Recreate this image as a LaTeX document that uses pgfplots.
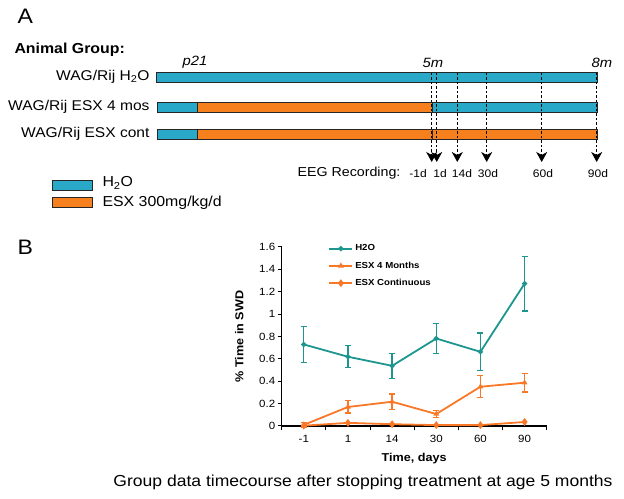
\documentclass[border=0pt]{standalone}
\usepackage{pgfplots}
\pgfplotsset{compat=1.18}
\usepackage{fontspec}
\setmainfont{Liberation Sans}[FakeStretch=1.1]
\usetikzlibrary{arrows.meta}
\definecolor{cblue}{RGB}{41,168,199}
\definecolor{corange}{RGB}{247,128,30}
\definecolor{cteal}{RGB}{28,150,142}
\definecolor{lorange}{RGB}{249,120,40}
\newcommand{\fs}[1]{\fontsize{#1}{#1}\selectfont}
\begin{document}
\begin{tikzpicture}
% ---------- canvas (pixel coordinates) ----------
\begin{axis}[name=canvas, at={(0,0)}, anchor=south west, scale only axis,
  width=624bp, height=499bp, xmin=0, xmax=624, ymin=0, ymax=499,
  y dir=reverse, hide axis, clip=false]
\path (axis cs:0,0) rectangle (axis cs:624,499);
% bars
\addplot[fill=cblue, draw=black!85, line width=0.8bp] coordinates {(156,72.3) (597,72.3) (597,82.7) (156,82.7)} -- cycle;
\addplot[fill=cblue, draw=black!85, line width=0.8bp] coordinates {(157,102) (197,102) (197,112) (157,112)} -- cycle;
\addplot[fill=corange, draw=black!85, line width=0.8bp] coordinates {(197,102) (432,102) (432,112) (197,112)} -- cycle;
\addplot[fill=cblue, draw=black!85, line width=0.8bp] coordinates {(432,102) (597,102) (597,112) (432,112)} -- cycle;
\addplot[fill=cblue, draw=black!85, line width=0.8bp] coordinates {(157,129.3) (197,129.3) (197,139.3) (157,139.3)} -- cycle;
\addplot[fill=corange, draw=black!85, line width=0.8bp] coordinates {(197,129.3) (432,129.3) (432,139.3) (197,139.3)} -- cycle;
\addplot[fill=corange, draw=black!85, line width=0.8bp] coordinates {(432,129.3) (597,129.3) (597,139.3) (432,139.3)} -- cycle;
% dashed recording lines
\foreach \xx in {431.7,436.7,457.3,486.7,541.7,596.7} {
  \addplot[black, line width=1.1bp, dash pattern=on 2.5bp off 2bp,
    -{Stealth[length=10bp,width=11bp,inset=3bp]}] coordinates {(\xx,73) (\xx,162)};
}
% legend boxes
\addplot[fill=cblue, draw=black!85, line width=0.8bp] coordinates {(52,180) (92,180) (92,190) (52,190)} -- cycle;
\addplot[fill=corange, draw=black!85, line width=0.8bp] coordinates {(52,197.5) (92,197.5) (92,207.5) (52,207.5)} -- cycle;
% texts
\node[anchor=west, font=\fs{21}] at (axis cs:14,16) {A};
\node[anchor=west, font=\fs{21}] at (axis cs:14,247) {B};
\node[anchor=west, font=\bfseries\fs{14.5}] at (axis cs:11,50) {Animal Group:};
\node[anchor=east, font=\fs{14.2}] at (axis cs:153,77) {WAG/Rij H\textsubscript{2}O};
\node[anchor=east, font=\fs{14.2}] at (axis cs:153,107) {WAG/Rij ESX 4 mos};
\node[anchor=east, font=\fs{14.2}] at (axis cs:153,134) {WAG/Rij ESX cont};
\node[font=\itshape\fs{13.5}] at (axis cs:195,62) {p21};
\node[font=\itshape\fs{13.5}] at (axis cs:433,63) {5m};
\node[font=\itshape\fs{13.5}] at (axis cs:602,63) {8m};
\node[anchor=west, font=\fs{13}] at (axis cs:294,173) {EEG Recording:};
\node[font=\fs{11}] at (axis cs:418,173.5) {-1d};
\node[font=\fs{11}] at (axis cs:440,173.5) {1d};
\node[font=\fs{11}] at (axis cs:462,173.5) {14d};
\node[font=\fs{11}] at (axis cs:488,173.5) {30d};
\node[font=\fs{11}] at (axis cs:543,173.5) {60d};
\node[font=\fs{11}] at (axis cs:598,173.5) {90d};
\node[anchor=west, font=\fs{14.5}] at (axis cs:99,183) {H\textsubscript{2}O};
\node[anchor=west, font=\fs{14.5}] at (axis cs:99,203) {ESX 300mg/kg/d};
\node[font=\fs{16}] at (axis cs:363,482) {Group data timecourse after stopping treatment at age 5 months};
\end{axis}
% ---------- chart ----------
\begin{axis}[at={(281.7bp,73bp)}, anchor=south west, scale only axis,
  width=265bp, height=179bp, xmin=-0.5, xmax=5.5, ymin=0, ymax=1.6,
  axis lines=left, axis line style={-, line width=1.3bp},
  ytick={0,0.2,0.4,0.6,0.8,1,1.2,1.4,1.6},
  xtick={0,1,2,3,4,5}, xticklabels={-1,1,14,30,60,90},
  minor xtick={-0.5,0.5,1.5,2.5,3.5,4.5,5.5},
  major x tick style={draw=none},
  tick align=outside, major tick length=4bp, minor tick length=4bp,
  tick style={black, line width=1bp},
  /pgf/number format/assume math mode=true,
  ticklabel style={font=\fs{10.5}},
  xticklabel style={yshift=-2bp},
  yticklabel style={xshift=1bp},
  ylabel={\% Time in SWD}, xlabel={Time, days},
  label style={font=\bfseries\fs{11.5}},
  ylabel style={at={(axis description cs:-0.16,0.5)}, anchor=center, rotate=0},
  xlabel style={at={(axis description cs:0.5,-0.18)}, anchor=center},
  clip=false,
  legend style={draw=none, fill=none, at={(axis description cs:0.172,1.03)}, anchor=north west,
    font=\bfseries\fs{8.8}, row sep=5.5bp, inner sep=1bp},
  legend cell align=left,
  legend image code/.code={\draw[#1, line width=1.8bp] (0bp,0bp) -- (23bp,0bp); \draw[#1, only marks] plot coordinates {(11.5bp,0bp)};},
]
\addplot[cteal, line width=1.8bp, mark=*, mark size=1.6bp,
  error bars/.cd, y dir=both, y explicit,
  error bar style={line width=1.3bp}, error mark options={rotate=90, mark size=3bp, line width=1.3bp}]
  coordinates {
  (0,0.729) +- (0,0.163)
  (1,0.619) +- (0,0.099)
  (2,0.538) +- (0,0.113)
  (3,0.782) +- (0,0.134)
  (4,0.663) +- (0,0.168)
  (5,1.273) +- (0,0.244)
};
\addlegendentry{H2O}
\addplot[lorange, line width=1.8bp, mark=triangle*, mark size=1.6bp,
  error bars/.cd, y dir=both, y explicit,
  error bar style={line width=1.3bp}, error mark options={rotate=90, mark size=3bp, line width=1.3bp}]
  coordinates {
  (0,0.010) +- (0,0.02)
  (1,0.170) +- (0,0.055)
  (2,0.217) +- (0,0.07)
  (3,0.107) +- (0,0.03)
  (4,0.351) +- (0,0.098)
  (5,0.387) +- (0,0.083)
};
\addlegendentry{ESX 4 Months}
\addplot[lorange, line width=1.8bp, mark=diamond*, mark size=2.5bp]
  coordinates {
  (0,0.003)
  (1,0.028)
  (2,0.016)
  (3,0.008)
  (4,0.008)
  (5,0.036)
};
\addlegendentry{ESX Continuous}
\end{axis}
\end{tikzpicture}
\end{document}
